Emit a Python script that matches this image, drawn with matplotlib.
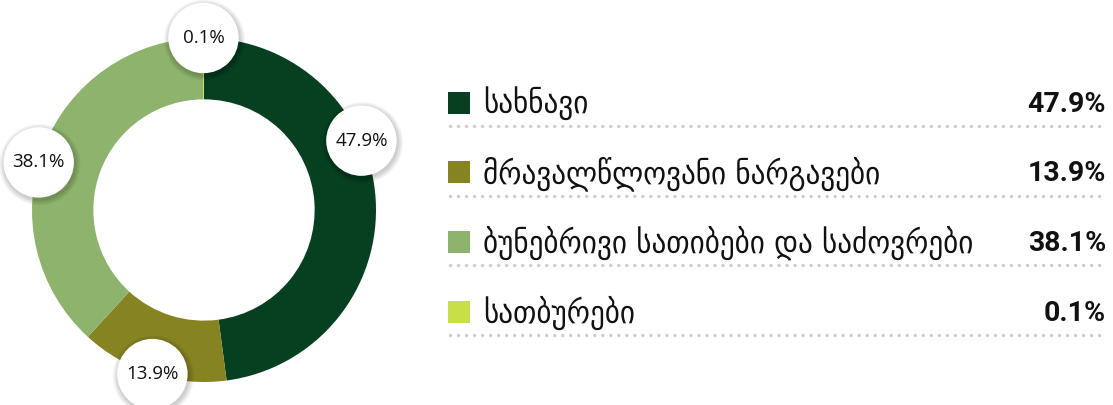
import numpy as np
import matplotlib
matplotlib.use("Agg")
import matplotlib.pyplot as plt
from matplotlib.patches import Circle, Rectangle

plt.rcParams["lines.scale_dashes"] = False

# ---- data ----
categories = ["სახნავი", "მრავალწლოვანი ნარგავები",
              "ბუნებრივი სათიბები და საძოვრები", "სათბურები"]
values = [47.9, 13.9, 38.1, 0.1]
value_labels = ["47.9%", "13.9%", "38.1%", "0.1%"]
colors = ["#074020", "#868322", "#8DB36C", "#C8DF48"]

W, H = 1113, 405
fig = plt.figure(figsize=(W / 100, H / 100), dpi=100)
fig.patch.set_facecolor("white")

# ---- donut ----
cx, cy, R, Rin = 204, 210, 171, 110          # pixels (y from top)
S = 430
lim = (S / 2) / R
ax = fig.add_axes([(cx - S / 2) / W, (H - cy - S / 2) / H, S / W, S / H])
ax.set_xlim(-lim, lim)
ax.set_ylim(-lim, lim)
ax.set_aspect("equal")
ax.axis("off")
wedges, _ = ax.pie(values, colors=colors, startangle=90, counterclock=False,
                   radius=1.0, wedgeprops=dict(width=1 - Rin / R, edgecolor="none"))

# label bubbles
total = sum(values)
cum = np.cumsum([0] + values[:-1])
mid_deg = [(c + v / 2) / total * 360 for c, v in zip(cum, values)]
nudge = [-20, 0, -5, 0]
rb = 35 / R
for m, n, lab in zip(mid_deg, nudge, value_labels):
    a = np.deg2rad(m + n)
    x, y = 1.0 * np.sin(a), 1.0 * np.cos(a)
    for k in range(8):
        ax.add_patch(Circle((x + 0.006, y - 0.012), rb + 0.004 * (k + 1),
                            facecolor="#000000", alpha=0.022, edgecolor="none",
                            zorder=3, clip_on=False))
    ax.add_patch(Circle((x, y), rb, facecolor="white", edgecolor="none",
                        zorder=4, clip_on=False))
    ax.text(x, y, lab, ha="center", va="center", fontsize=13.5,
            family=["Open Sans", "DejaVu Sans"], color="#111111",
            zorder=5)

# ---- legend ----
ov = fig.add_axes([0, 0, 1, 1], zorder=-1)
ov.set_xlim(0, W)
ov.set_ylim(H, 0)
ov.axis("off")
row0, dy = 102.5, 69.7
sq = 22
x_sq, x_txt, x_val = 448, 483, 1106
for i, (cat, lab, col) in enumerate(zip(categories, value_labels, colors)):
    yc = row0 + i * dy
    ov.add_patch(Rectangle((x_sq, yc - sq / 2), sq, sq, facecolor=col,
                           edgecolor="none"))
    ov.text(x_txt, yc + 1, cat, ha="left", va="center", fontsize=23.3,
            family="DejaVu Sans", fontstretch="condensed", color="#111111")
    ov.text(x_val, yc + 1.5, lab, ha="right", va="center", fontsize=20.5,
            family=["Roboto", "DejaVu Sans"],
            fontweight="bold", color="#111111")
    yl = yc + 23.5
    ov.plot([x_sq + 2, x_val], [yl, yl], color="#cccccc", lw=2.4,
            linestyle=(0, (0.01, 5.76)), dash_capstyle="round")

fig.savefig("out.png", dpi=100, facecolor="white")
